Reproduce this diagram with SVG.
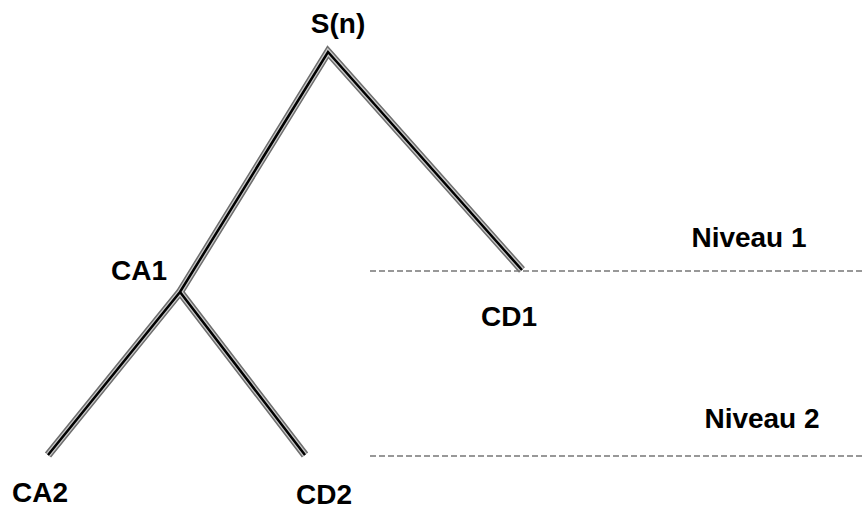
<svg xmlns="http://www.w3.org/2000/svg" width="863" height="509" viewBox="0 0 863 509">
<style>
.lbl{font-family:"Liberation Sans",Arial,sans-serif;font-weight:bold;font-size:28px;fill:#000}
.o{fill:none;stroke:#6e6e6e;stroke-width:8;stroke-linecap:butt;stroke-linejoin:miter}
.m{fill:none;stroke:#c8c8c8;stroke-width:5;stroke-linejoin:miter}
.c{fill:none;stroke:#000;stroke-width:2.5;stroke-linejoin:miter}
.dash{stroke:#777;stroke-width:1.5;stroke-dasharray:6 3;fill:none}
</style>
<rect width="863" height="509" fill="#fff"/>
<g id="connectors">
<path class="o" d="M522,270 L328,52 L180,292 L48,455 M180,292 L305,455"/>
<path class="m" d="M522,270 L328,52 L180,292 L48,455 M180,292 L305,455"/>
<path class="c" d="M522,270 L328,52 L180,292 L48,455 M180,292 L305,455"/>
<line class="dash" x1="370" y1="271" x2="863" y2="271"/>
<line class="dash" x1="370" y1="456" x2="863" y2="456"/>
</g>
<g id="Sn"><text class="lbl" x="338" y="33" text-anchor="middle">S(n)</text></g>
<g id="CA1"><text class="lbl" x="139" y="280" text-anchor="middle">CA1</text></g>
<g id="CD1"><text class="lbl" x="509" y="326" text-anchor="middle">CD1</text></g>
<g id="CA2"><text class="lbl" x="40" y="502" text-anchor="middle">CA2</text></g>
<g id="CD2"><text class="lbl" x="324" y="504" text-anchor="middle">CD2</text></g>
<g id="niveau1"><text class="lbl" x="749" y="247" text-anchor="middle">Niveau 1</text></g>
<g id="niveau2"><text class="lbl" x="762" y="428" text-anchor="middle">Niveau 2</text></g>
</svg>
